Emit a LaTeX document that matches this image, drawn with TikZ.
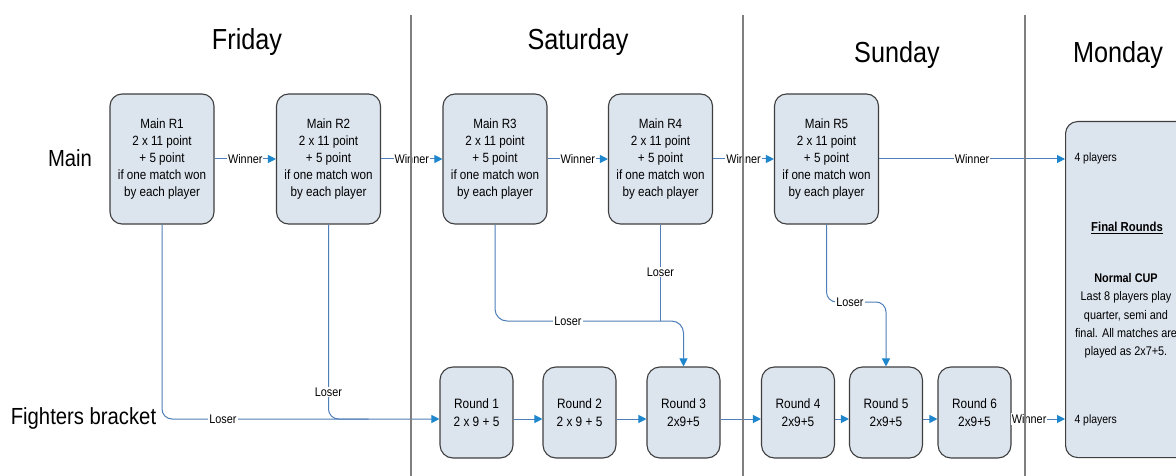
\documentclass[tikz,border=0pt]{standalone}
\usepackage{fontspec}
\setmainfont{Liberation Sans}[FakeStretch=0.87]
\usetikzlibrary{arrows.meta,calc}
\definecolor{boxfill}{HTML}{DCE4EE}
\definecolor{boxborder}{HTML}{3F3F3F}
\definecolor{lineblue}{HTML}{4F7FB8}
\definecolor{arrowblue}{HTML}{1E86CC}
\definecolor{sepgrey}{HTML}{7F7F7F}
\tikzset{
  mainbox/.style={draw=boxborder, fill=boxfill, line width=1.1pt, rounded corners=12pt,
    minimum width=104pt, minimum height=130pt, align=center, inner sep=0pt,
    font=\fontsize{13.4}{17}\selectfont},
  roundbox/.style={draw=boxborder, fill=boxfill, line width=1.1pt, rounded corners=13pt,
    minimum width=73pt, minimum height=91pt, align=center, inner sep=0pt,
    font=\fontsize{13.6}{18.5}\selectfont},
  monbox/.style={draw=boxborder, fill=boxfill, line width=1.1pt, rounded corners=12pt,
    minimum width=150pt, minimum height=336pt, inner sep=0pt},
  conn/.style={draw=lineblue, line width=1pt, -{Triangle[length=8pt,width=8pt,color=arrowblue]}},
  plainconn/.style={draw=lineblue, line width=1pt},
  lbl/.style={fill=white, inner sep=1pt, font=\fontsize{12.5}{14}\selectfont},
  daytitle/.style={font=\fontsize{29}{32}\selectfont},
  rowlabel/.style={font=\fontsize{23.3}{26}\selectfont},
  monlbl/.style={font=\fontsize{12}{14}\selectfont},
  sepline/.style={draw=sepgrey, line width=1.3pt}
}
\begin{document}
\begin{tikzpicture}[x=1pt,y=-1pt]
\useasboundingbox (0,0) rectangle (1176,476);
\fill[white] (0,0) rectangle (1176,476);
\clip (0,0) rectangle (1176,476);

% day titles
\node[daytitle] (fri) at (247,42) {Friday};
\node[daytitle] (sat) at (578,42) {Saturday};
\node[daytitle] (sun) at (897,55) {Sunday};
\node[daytitle] (mont) at (1118,55) {Monday};

% row labels
\node[rowlabel] (mainlbl) at (70,158) {Main};
\node[rowlabel] (fightlbl) at (83.5,418) {Fighters bracket};

% main boxes
\node[mainbox] (r1) at (162,159) {Main R1\\2 x 11 point\\+ 5 point\\if one match won\\by each player};
\node[mainbox] (r2) at (328.5,159) {Main R2\\2 x 11 point\\+ 5 point\\if one match won\\by each player};
\node[mainbox] (r3) at (495,159) {Main R3\\2 x 11 point\\+ 5 point\\if one match won\\by each player};
\node[mainbox] (r4) at (660.5,159) {Main R4\\2 x 11 point\\+ 5 point\\if one match won\\by each player};
\node[mainbox] (r5) at (826.5,159) {Main R5\\2 x 11 point\\+ 5 point\\if one match won\\by each player};

% round boxes
\node[roundbox] (rd1) at (476.5,412.5) {Round 1\\2 x 9 + 5};
\node[roundbox] (rd2) at (579.5,412.5) {Round 2\\2 x 9 + 5};
\node[roundbox] (rd3) at (683.5,412.5) {Round 3\\2x9+5};
\node[roundbox] (rd4) at (798,412.5) {Round 4\\2x9+5};
\node[roundbox] (rd5) at (886,412.5) {Round 5\\2x9+5};
\node[roundbox] (rd6) at (974.5,412.5) {Round 6\\2x9+5};

% monday box
\node[monbox, anchor=north west] (mon) at (1065,121) {};
\node[monlbl, anchor=west] (p4a) at (1071,158) {4 players};
\node[monlbl, anchor=west] (p4b) at (1071,420) {4 players};
\node[font=\bfseries\fontsize{13}{15}\selectfont] (fr) at (1127,228) {\underline{Final Rounds}};
\node[align=center, font=\fontsize{12.5}{18.3}\selectfont, inner sep=0pt] (cup) at (1126,316)
  {\textbf{Normal CUP}\\Last 8 players play\\quarter, semi and\\final. All matches are\\played as 2x7+5.};

\coordinate (by) at (0,419);

% main row winners
\draw[conn] (r1.east) -- node[lbl]{Winner} (r2.west);
\draw[conn] (r2.east) -- node[lbl]{Winner} (r3.west);
\draw[conn] (r3.east) -- node[lbl]{Winner} (r4.west);
\draw[conn] (r4.east) -- node[lbl]{Winner} (r5.west);
\draw[conn] (r5.east) -- node[lbl]{Winner} (mon.west |- r5.east);

% bottom row
\draw[conn] (rd1.east |- by) -- (rd2.west |- by);
\draw[conn] (rd2.east |- by) -- (rd3.west |- by);
\draw[conn] (rd3.east |- by) -- (rd4.west |- by);
\draw[conn] (rd4.east |- by) -- (rd5.west |- by);
\draw[conn] (rd5.east |- by) -- (rd6.west |- by);
\draw[conn] (rd6.east |- by) -- node[lbl, pos=0.33]{Winner} (mon.west |- by);

% losers
\draw[conn, rounded corners=10pt] (r1.south) |- (rd1.west |- by);
\draw[plainconn, rounded corners=10pt] (r2.south) |- ($(r2.south |- by)+(40,0)$);
\node[lbl] (l1) at (223,419) {Loser};
\node[lbl] (l2) at (328.5,392) {Loser};

\draw[conn, rounded corners=12pt] (r3.south) |- (rd3.north |- 0,321) -- (rd3.north);
\draw[plainconn] (r4.south) -- (r4.south |- 0,321);
\node[lbl] (l3) at (568,321) {Loser};
\node[lbl] (l4) at (660.5,272) {Loser};

\draw[conn, rounded corners=10pt] (r5.south) |- (rd5.north |- 0,302) -- (rd5.north);
\node[lbl] (l5) at (850,302) {Loser};

% separators
\draw[sepline] (411,15) -- (411,476);
\draw[sepline] (743,15) -- (743,476);
\draw[sepline] (1025,15) -- (1025,476);
\end{tikzpicture}
\end{document}
